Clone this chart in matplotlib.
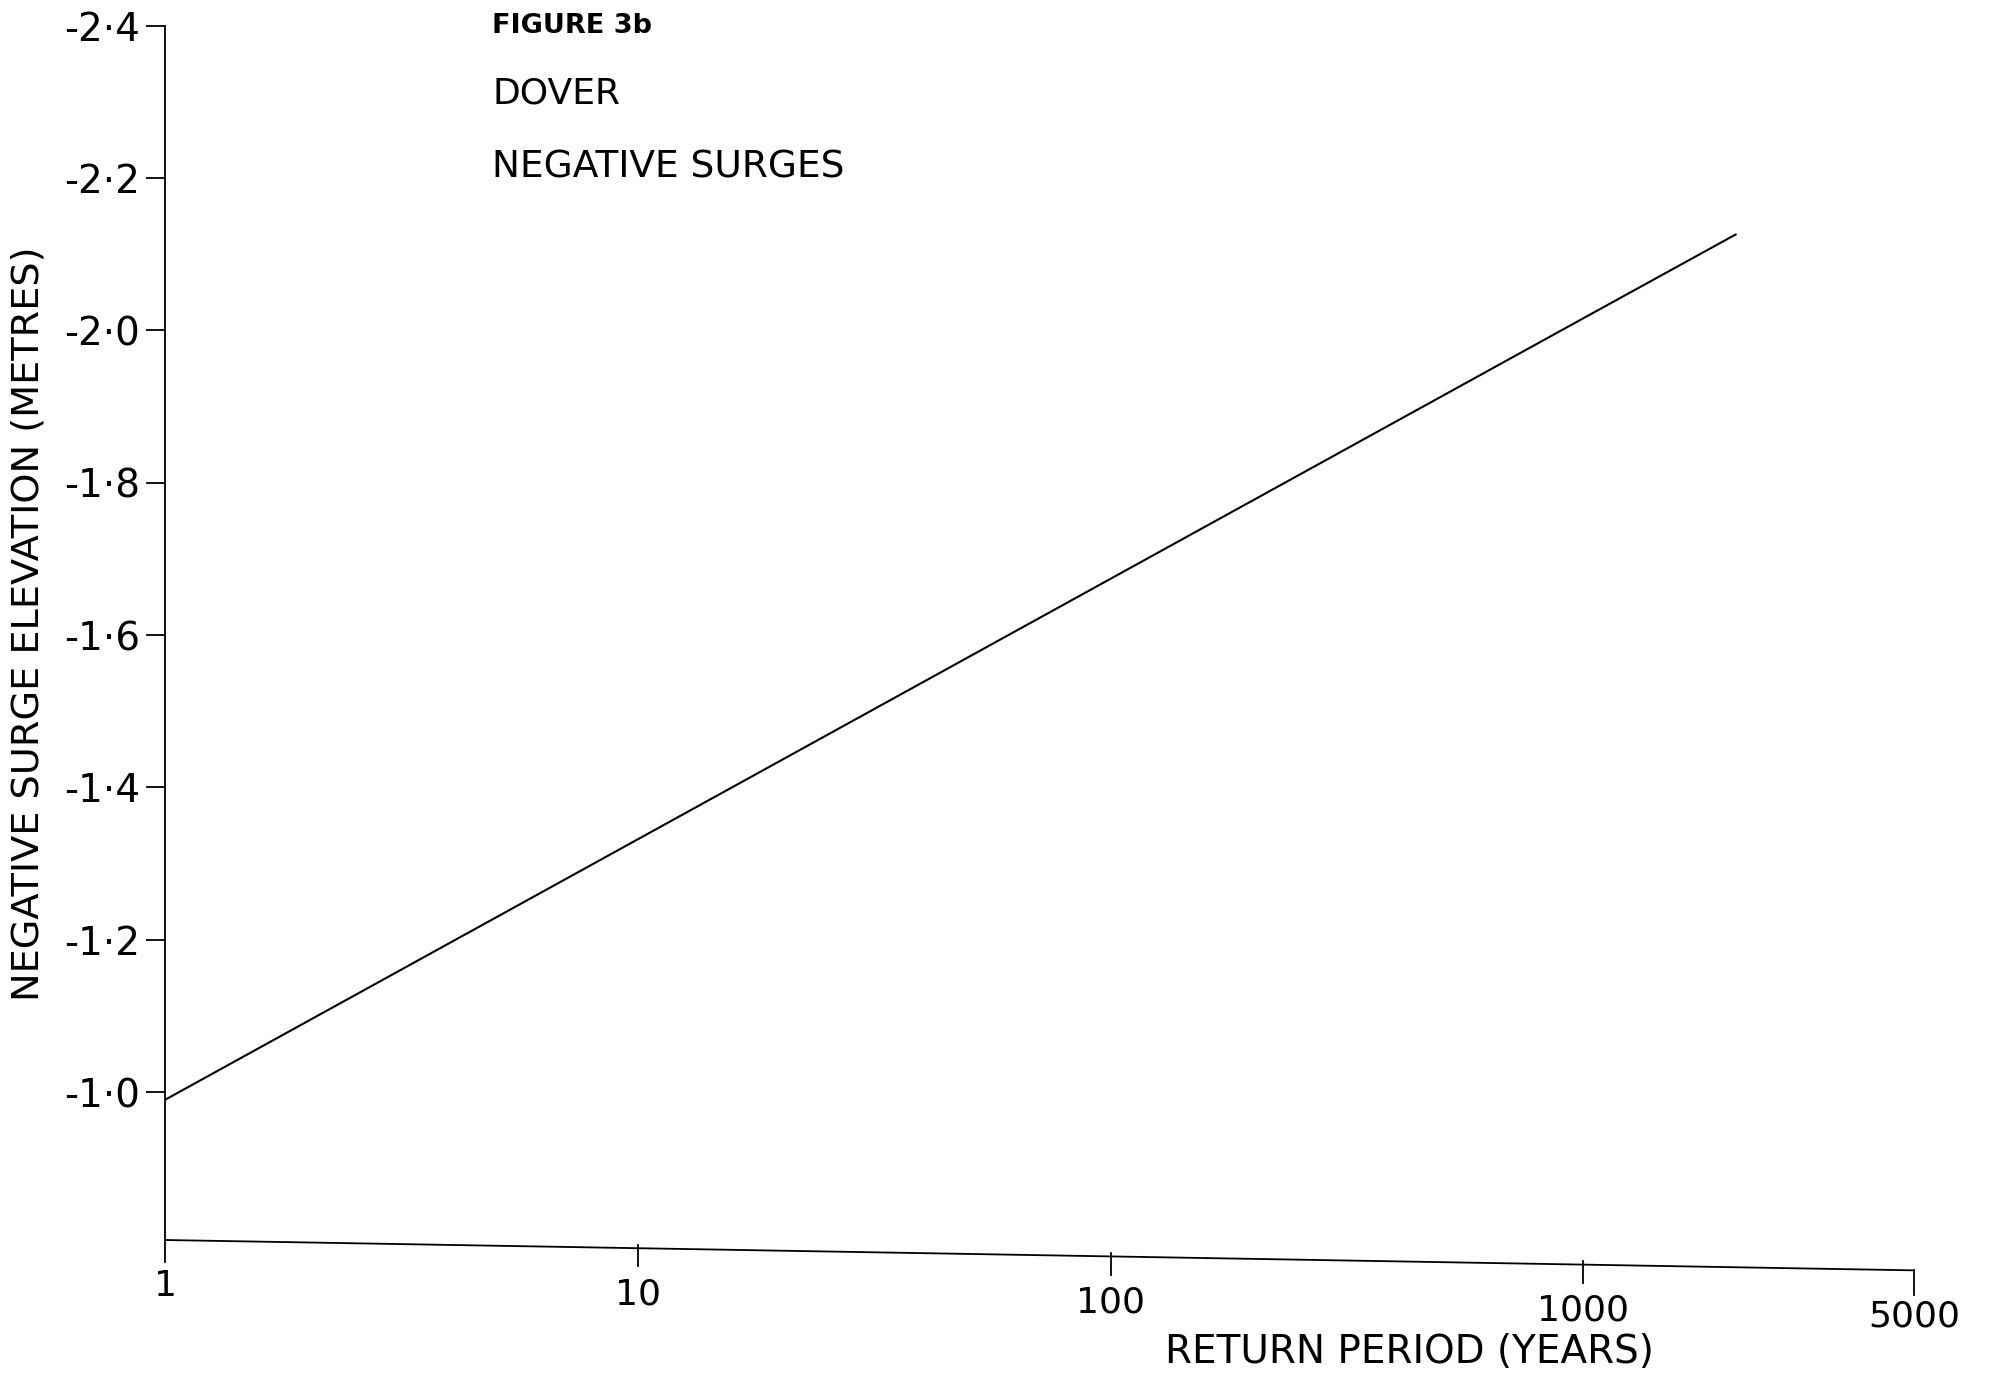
import numpy as np
import matplotlib
matplotlib.use("Agg")
import matplotlib.pyplot as plt

# Return period (years) and negative surge elevation (metres), Dover
return_period = [1, 10, 100, 1000, 2100]
surge_elevation = [-0.99, -1.332, -1.674, -2.016, -2.126]

y_ticks = [-2.4, -2.2, -2.0, -1.8, -1.6, -1.4, -1.2, -1.0]
y_tick_labels = ["-2·4", "-2·2", "-2·0", "-1·8", "-1·6", "-1·4", "-1·2", "-1·0"]
x_ticks = [1, 10, 100, 1000, 5000]
x_tick_labels = ["1", "10", "100", "1000", "5000"]

plt.rcParams["font.family"] = ["DejaVu Sans"]

fig = plt.figure(figsize=(20.05, 13.79), dpi=100)
ax = fig.add_axes([0.0823, 0.1008, 0.8723, 0.8806])

ax.set_xscale("log")
ax.set_xlim(1, 5000)
ax.set_ylim(-0.806, -2.4)

ax.plot(return_period, surge_elevation, color="black", lw=1.5, solid_capstyle="round")

# Axis frame: hand-drawn style, the baseline runs slightly downhill
for s in ax.spines.values():
    s.set_visible(False)
tilt = -0.025
ax.plot([0, 0], [1, -0.018], transform=ax.transAxes, color="black", lw=1.3, clip_on=False)
ax.plot([0, 1], [0, tilt], transform=ax.transAxes, color="black", lw=1.3, clip_on=False)

# y ticks
ax.set_yticks(y_ticks)
ax.set_yticklabels(y_tick_labels)
ax.tick_params(axis="y", direction="out", length=14, width=1.3, pad=4, labelsize=28)
ax.set_xticks([])
ax.xaxis.set_minor_locator(matplotlib.ticker.NullLocator())

# x ticks follow the sloping baseline
xt = ax.get_xaxis_transform()
span = np.log10(5000)
for v, lab in zip(x_ticks, x_tick_labels):
    frac = np.log10(v) / span
    y0 = tilt * frac
    if v == 5000:
        ax.plot([v, v], [y0, y0 - 0.02], transform=xt, color="black", lw=1.3, clip_on=False)
    elif v != 1:
        ax.plot([v, v], [y0 + 0.003, y0 - 0.015], transform=xt, color="black", lw=1.3, clip_on=False)
    ax.text(v, y0 - 0.038, lab, transform=xt, ha="center", va="center", fontsize=26)

fig.text(0.014, 0.548, "NEGATIVE SURGE ELEVATION (METRES)", rotation=90,
         ha="center", va="center", fontsize=27.5)
fig.text(0.703, 0.0195, "RETURN PERIOD (YEARS)", ha="center", va="center", fontsize=28)

fig.text(0.2454, 0.9814, "FIGURE 3b", ha="left", va="center", fontsize=19.5, fontweight="bold")
fig.text(0.2454, 0.9323, "DOVER", ha="left", va="center", fontsize=26)
fig.text(0.2454, 0.8785, "NEGATIVE SURGES", ha="left", va="center", fontsize=27)

fig.savefig("out.png", dpi=100, facecolor="white")
